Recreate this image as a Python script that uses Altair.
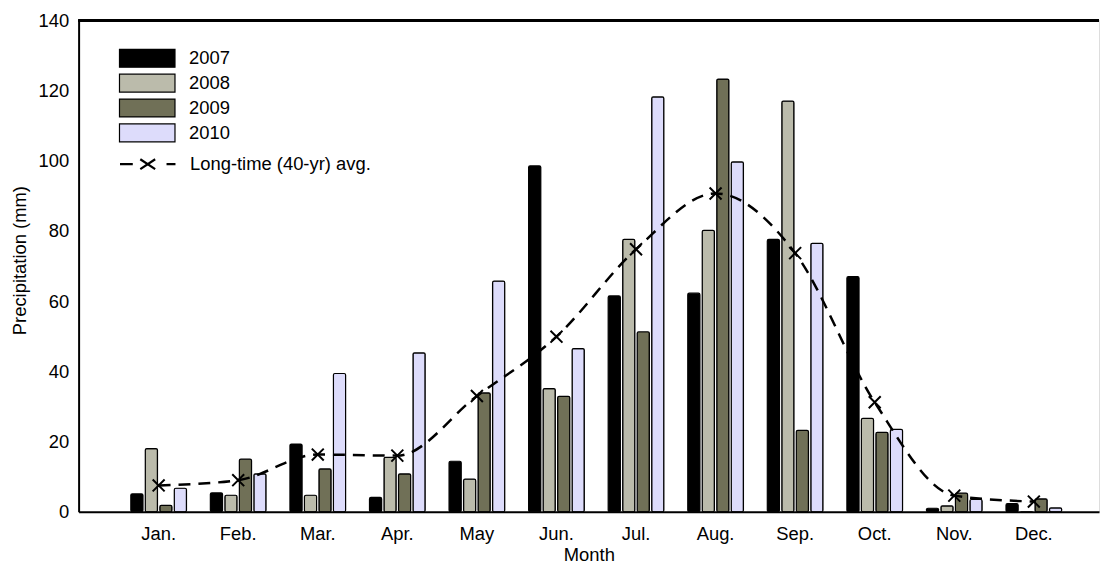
import altair as alt
import pandas as pd

months = ["Jan.", "Feb.", "Mar.", "Apr.", "May", "Jun.", "Jul.", "Aug.", "Sep.", "Oct.", "Nov.", "Dec."]
years = ["2007", "2008", "2009", "2010"]
p2007 = [5.1, 5.4, 19.3, 4.1, 14.4, 98.6, 61.5, 62.3, 77.6, 67.0, 1.0, 2.3]
p2008 = [18.0, 4.7, 4.7, 15.5, 9.3, 35.1, 77.6, 80.2, 117.0, 26.6, 1.7, 0.0]
p2009 = [1.8, 15.0, 12.2, 10.8, 33.9, 32.9, 51.3, 123.3, 23.2, 22.6, 5.3, 3.7]
p2010 = [6.7, 10.8, 39.4, 45.3, 65.7, 46.5, 118.2, 99.7, 76.5, 23.5, 3.5, 1.1]
avg40 = [7.5, 9.0, 16.3, 16.0, 33.0, 49.9, 74.8, 90.7, 73.7, 31.2, 4.6, 2.9]
avg_label = "Long-time (40-yr) avg."
colors = ["#000000", "#bbbbab", "#707057", "#dddcfb"]

series = {"2007": p2007, "2008": p2008, "2009": p2009, "2010": p2010}
rows = []
for y in years:
    for m, v in zip(months, series[y]):
        rows.append({"month": m, "year": y, "value": v})
df_bars = pd.DataFrame(rows)
df_avg = pd.DataFrame({"month": months, "value": avg40, "label": [avg_label] * len(months)})

W, H = 1026, 494
FONT = "Liberation Sans"
FS = 18.5

rect_path = "M -3.1 -1 H 3.1 V 1 H -3.1 Z"
line_path = ("M -3.1 0 H -1.67 M -0.83 -0.55 L 0.83 0.55 M -0.83 0.55 L 0.83 -0.55 "
             "M 2.1 0 H 3.1")
x_path = "M -1 -1 L 1 1 M -1 1 L 1 -1"

x_enc = alt.X(
    "month:N", sort=months, title="Month",
    scale=alt.Scale(paddingInner=0.3, paddingOuter=0.5625, align=0.583),
    axis=alt.Axis(labelAngle=0, ticks=False, labelPadding=13, domainColor="black",
                  domainWidth=2, labelFont=FONT, labelFontSize=FS, labelColor="black",
                  titleFont=FONT, titleFontSize=FS, titleColor="black", titleFontWeight="normal",
                  titleBaseline="alphabetic", titleY=49),
)
y_enc = alt.Y(
    "value:Q", title="Precipitation (mm)",
    scale=alt.Scale(domain=[0, 140], nice=False),
    axis=alt.Axis(values=list(range(0, 141, 20)), ticks=False, grid=False, labelPadding=10,
                  domainColor="black", domainWidth=2, labelFont=FONT, labelFontSize=FS,
                  labelColor="black", titleFont=FONT, titleFontSize=FS, titleColor="black",
                  titleFontWeight="normal", titleX=-59, titleY=241, titleAngle=270,
                  titleAlign="center", titleBaseline="middle"),
)

bars = alt.Chart(df_bars).mark_bar(stroke="black", strokeWidth=1.2, cornerRadius=1.5).encode(
    x=x_enc,
    xOffset=alt.XOffset("year:N", sort=years, scale=alt.Scale(paddingInner=0.16, paddingOuter=0)),
    y=y_enc,
    color=alt.Color(
        "year:N", sort=years, scale=alt.Scale(domain=years, range=colors),
        legend=alt.Legend(title=None, orient="none", legendX=41, legendY=28, padding=0,
                          symbolType=rect_path, symbolSize=324, symbolStrokeColor="black",
                          symbolStrokeWidth=1.2, symbolOpacity=1, symbolOffset=18,
                          labelOffset=32, rowPadding=1, labelFont=FONT, labelFontSize=FS,
                          labelColor="black", labelLimit=0),
    ),
)

line = alt.Chart(df_avg).mark_line(
    color="black", strokeWidth=2.5, strokeDash=[12, 8], interpolate="monotone"
).encode(
    x=alt.X("month:N", sort=months),
    y=alt.Y("value:Q"),
    opacity=alt.Opacity(
        "label:N", scale=alt.Scale(range=[1, 1]),
        legend=alt.Legend(title=None, orient="none", legendX=41, legendY=134, padding=0,
                          symbolType=line_path, symbolSize=324, symbolStrokeColor="black",
                          symbolStrokeWidth=2.2, symbolFillColor="transparent",
                          symbolDash=[], symbolOffset=18, labelOffset=32, labelFont=FONT,
                          labelFontSize=FS, labelColor="black", labelLimit=0),
    ),
)

points = alt.Chart(df_avg).mark_point(
    shape=x_path, size=144, filled=False, stroke="black", strokeWidth=2, opacity=1
).encode(
    x=alt.X("month:N", sort=months),
    y=alt.Y("value:Q"),
)

frame_top = alt.Chart(df_avg).mark_rule(color="black", strokeWidth=2).encode(
    x=alt.value(0), x2=alt.value(W), y=alt.value(0)
)

chart = alt.layer(bars, line, points, frame_top).properties(
    width=W, height=H,
    padding={"left": 71, "top": 11, "right": 2, "bottom": 55},
    autosize=alt.AutoSizeParams(type="none"),
).configure_view(stroke=None).configure(background="white")

chart.save("out.html", embed_options={"renderer": "svg", "actions": False})
